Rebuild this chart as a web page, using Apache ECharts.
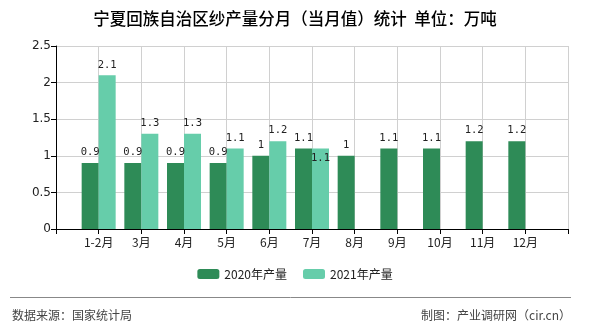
<!DOCTYPE html>
<html><head><meta charset="utf-8">
<script src="https://cdn.jsdelivr.net/npm/echarts@6/dist/echarts.min.js"></script>
<style>html,body{margin:0;padding:0;background:#fff}#c{width:590px;height:330px}</style>
</head><body><div id="c"></div>
<script>
const categories = ['', '1-2月', '3月', '4月', '5月', '6月', '7月', '8月', '9月', '10月', '11月', '12月', ''];
const output2020 = [null, 0.9, 0.9, 0.9, 0.9, 1, 1.1, 1, 1.1, 1.1, 1.2, 1.2, null];
const output2021 = [null, 2.1, 1.3, 1.3, 1.1, 1.2, 1.1, null, null, null, null, null, null];
const yTicks = [0, 0.5, 1, 1.5, 2, 2.5];
const seriesNames = ['2020年产量', '2021年产量'];

const chart = echarts.init(document.getElementById('c'), null, {renderer: 'canvas'});
const labelFont = 'DejaVu Sans Mono';
const cjk = '"Noto Sans CJK SC", sans-serif';
const data2021 = output2021.map((v, i) => i === 6 ? {value: v, label: {position: 'insideTop', distance: 4}} : v);

chart.setOption({
  animation: false,
  title: {
    text: '宁夏回族自治区纱产量分月（当月值）统计  单位：万吨',
    left: 'center', top: 5,
    textStyle: {fontFamily: cjk, fontSize: 16.5, fontWeight: 500, color: '#000'}
  },
  legend: {
    bottom: 45, left: 'center',
    itemWidth: 22, itemHeight: 10, itemGap: 16,
    textStyle: {fontFamily: cjk, fontSize: 12, color: '#222'},
    data: seriesNames
  },
  grid: {left: 56, right: 22, top: 46, bottom: 101, containLabel: false},
  xAxis: {
    type: 'category', data: categories, boundaryGap: false,
    axisLine: {lineStyle: {color: '#000', width: 1}},
    axisTick: {show: true, length: 5, interval: 0, lineStyle: {color: '#000'}},
    axisLabel: {interval: 0, margin: 7, fontFamily: cjk, fontSize: 12, color: '#222'},
    splitLine: {show: true, interval: 0, lineStyle: {color: '#d0d0d0'}}
  },
  yAxis: {
    type: 'value', min: yTicks[0], max: yTicks[yTicks.length - 1], interval: 0.5,
    axisLine: {show: true, lineStyle: {color: '#000'}},
    axisTick: {show: true, length: 5, lineStyle: {color: '#000'}},
    axisLabel: {margin: 5, fontFamily: 'DejaVu Sans', fontSize: 12, color: '#222'},
    splitLine: {show: true, lineStyle: {color: '#d0d0d0'}}
  },
  series: [
    {
      name: seriesNames[0], type: 'bar', data: output2020, barWidth: 17, barGap: '0%',
      itemStyle: {color: '#2e8b57'},
      label: {show: true, position: 'top', distance: 5, fontFamily: labelFont, fontSize: 10.5, color: '#222'}
    },
    {
      name: seriesNames[1], type: 'bar', data: data2021, barWidth: 17, barGap: '0%',
      itemStyle: {color: '#66cdaa'},
      label: {show: true, position: 'top', distance: 5, fontFamily: labelFont, fontSize: 10.5, color: '#222'}
    }
  ],
  graphic: [
    {type: 'line', shape: {x1: 10, y1: 297.5, x2: 571, y2: 297.5}, style: {stroke: '#888', lineWidth: 1}},
    {type: 'text', left: 12, top: 309, style: {text: '数据来源：国家统计局', font: '12px "Noto Sans CJK SC"', fill: '#444'}},
    {type: 'text', right: 19, top: 309, style: {text: '制图：产业调研网（cir.cn）', font: '12px "Noto Sans CJK SC"', fill: '#444'}}
  ]
});
</script></body></html>
